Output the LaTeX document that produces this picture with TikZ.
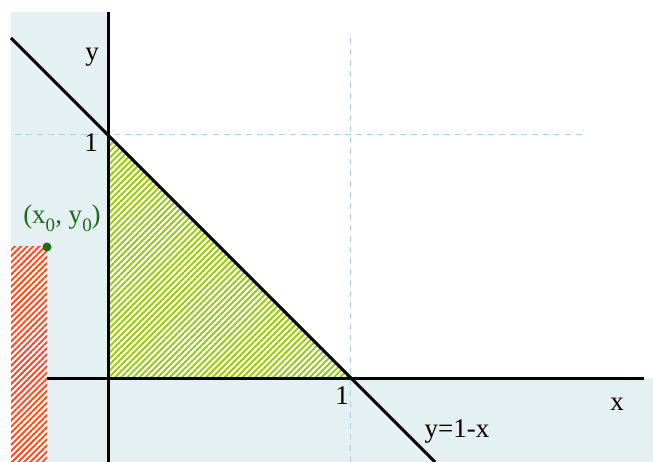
\documentclass[tikz,border=0pt]{standalone}
\usepackage{fontspec}
\setmainfont{Liberation Serif}
\usetikzlibrary{patterns.meta}
\definecolor{bgblue}{HTML}{E4F0F2}
\definecolor{dashc}{HTML}{A6D6DA}
\definecolor{hatchgreen}{HTML}{99CC11}
\definecolor{hatchred}{HTML}{FF4A22}
\definecolor{dotgreen}{HTML}{1E6B1E}
\newcommand{\subz}[1]{\raisebox{-0.28em}{\fontsize{19}{20}\selectfont #1}}
\begin{document}
\begin{tikzpicture}[x=1pt,y=-1pt,
  axis/.style={line width=3pt, line cap=butt},
  guide/.style={dashc, line width=1pt, dash pattern=on 6pt off 5pt},
  lbl/.style={font=\fontsize{27}{30}\selectfont, inner sep=0pt},
  hatch/.style={fill=white, postaction={pattern={Lines[angle=45,distance=4.3pt,line width=2pt]}, pattern color=#1}},
]
\useasboundingbox (0,0) rectangle (653,462);
% coordinates
\coordinate (O) at (108,378);
\coordinate (Y1) at (108,135);
\coordinate (X1) at (350,378);
\coordinate (P) at (47,247);
% background regions
\fill[bgblue] (11,12) rectangle (108,462);
\fill[bgblue] (11,378) rectangle (653,462);
% hatched regions
\path[hatch=hatchgreen] (Y1) -- (O) -- (X1) -- cycle;
\path[hatch=hatchred] (11,247) rectangle (47,462);
% guides
\draw[guide] (15,135) -- (582,135);
\draw[guide] (350,38) -- (350,462);
% axes
\draw[axis] (108,12) -- (108,462);
\draw[axis] (47,378) -- (644,378);
% line y = 1 - x
\draw[line width=3pt] (11,38) -- (435,462);
% point
\fill[dotgreen] (P) circle (4.5pt);
% labels
\node[lbl] (ly) at (92,57) {y};
\node[lbl] (l1y) at (91,143) {1};
\node[lbl] (l1x) at (342,396) {1};
\node[lbl] (lx) at (617,404) {x};
\node[lbl] (lf) at (457,431) {y=1-x};
\node[lbl, text=dotgreen] (lp) at (62,218) {(x\subz{0}, y\subz{0})};
\end{tikzpicture}
\end{document}
